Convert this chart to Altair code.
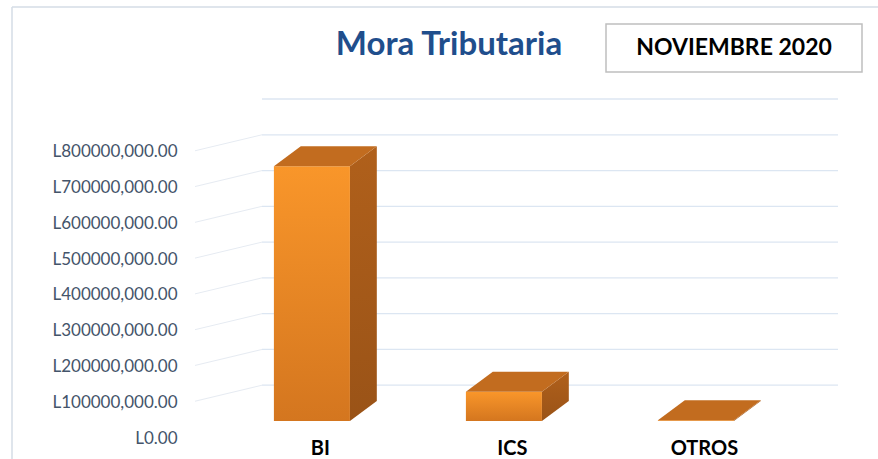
import json
import altair as alt
import pandas as pd

# ---- data ----
categories = ["BI", "ICS", "OTROS"]
values = [712_000_000, 82_000_000, 2_000_000]
tick_values = [0, 100_000_000, 200_000_000, 300_000_000, 400_000_000,
               500_000_000, 600_000_000, 700_000_000, 800_000_000]
grid_values = [100_000_000, 200_000_000, 300_000_000, 400_000_000, 500_000_000,
               600_000_000, 700_000_000, 800_000_000, 900_000_000]
title_text = "Mora Tributaria"
period_text = "NOVIEMBRE 2020"

# ---- geometry (style) ----
W, H = 576, 322
Y_MAX = 900_000_000
X_DOM = [-0.26, 2.74]
HW = 0.198          # half bar width in x units
DX = 0.14           # 3D depth in x units
DY = Y_MAX * 20 / H  # 3D depth in value units (~20 px)
FONT = "Lato"

pos = list(range(len(categories)))
front = pd.DataFrame({"cat": categories, "x": [p - HW for p in pos],
                      "x2": [p + HW for p in pos], "v": values})
side_rows, top_rows = [], []
for c, p, v in zip(categories, pos, values):
    side_rows += [{"cat": c, "x": p + HW, "y": 0, "y2": v},
                  {"cat": c, "x": p + HW + DX, "y": DY, "y2": v + DY}]
    top_rows += [{"cat": c, "y": v, "x": p - HW, "x2": p + HW},
                 {"cat": c, "y": v + DY, "x": p - HW + DX, "x2": p + HW + DX}]
side = pd.DataFrame(side_rows)
top = pd.DataFrame(top_rows)
grid = pd.DataFrame({"g": grid_values})
ticks = pd.DataFrame({"t": tick_values[1:]})
one = pd.DataFrame({"a": [0]})

xs = alt.Scale(domain=X_DOM, nice=False, zero=False)
ys = alt.Scale(domain=[0, Y_MAX], nice=False)

label_expr = json.dumps(categories) + "[datum.value]"
y_label_expr = "datum.value == 0 ? 'L0.00' : 'L' + format(datum.value/1000, 'd') + ',000.00'"

grid_layer = alt.Chart(grid).mark_rule(color="#DCE6F2", strokeWidth=1.3).encode(
    y=alt.Y("g:Q", scale=ys), x=alt.value(0), x2=alt.value(W))

wall_layer = alt.Chart(ticks).mark_rule(color="#E6EBF2", strokeWidth=1, yOffset=16).encode(
    y=alt.Y("t:Q", scale=ys), y2="t:Q", x=alt.value(-67), x2=alt.value(0))

front_layer = alt.Chart(front).mark_bar(
    fill=alt.Gradient(gradient="linear", x1=0, x2=0, y1=0, y2=1,
                      stops=[alt.GradientStop(color="#F9962A", offset=0),
                             alt.GradientStop(color="#D4761F", offset=1)])
).encode(
    x=alt.X("x:Q", scale=xs,
            axis=alt.Axis(values=pos, labelExpr=label_expr, title=None, domain=False,
                          ticks=False, grid=False, labelFont=FONT, labelFontSize=20,
                          labelFontWeight="bold", labelColor="#000000",
                          labelPadding=17, labelOffset=8)),
    x2="x2:Q",
    y=alt.Y("v:Q", scale=ys,
            axis=alt.Axis(values=tick_values, labelExpr=y_label_expr, title=None,
                          domain=False, ticks=False, grid=False, labelFont=FONT,
                          labelFontSize=17, labelColor="#44546A", labelPadding=85,
                          labelOffset=17)),
    y2=alt.datum(0),
)

side_layers = []
top_layers = []
for c in categories:
    side_layers.append(
        alt.Chart(side).transform_filter(alt.datum.cat == c)
        .mark_area(orient="vertical",
                   fill=alt.Gradient(gradient="linear", x1=0, x2=0, y1=0, y2=1,
                                     stops=[alt.GradientStop(color="#B0601B", offset=0),
                                            alt.GradientStop(color="#9A5317", offset=1)]))
        .encode(x=alt.X("x:Q", scale=xs), y=alt.Y("y:Q", scale=ys), y2="y2:Q"))
    top_layers.append(
        alt.Chart(top).transform_filter(alt.datum.cat == c)
        .mark_area(orient="horizontal", color="#C26C1F")
        .encode(y=alt.Y("y:Q", scale=ys), x=alt.X("x:Q", scale=xs), x2="x2:Q"))

border_v = alt.Chart(one).mark_rule(color="#D5DCE6", strokeWidth=1.5).encode(
    x=alt.value(-250), y=alt.value(-92), y2=alt.value(H + 60))
border_h = alt.Chart(one).mark_rule(color="#D5DCE6", strokeWidth=1.5).encode(
    y=alt.value(-92), x=alt.value(-250), x2=alt.value(W + 60))

title_layer = alt.Chart(one).mark_text(
    text=title_text, font=FONT, fontSize=33, fontWeight="bold", color="#1F4E8C",
    align="center", baseline="middle").encode(x=alt.value(187), y=alt.value(-54))

box_layer = alt.Chart(one).mark_rect(fill="white", stroke="#BFBFBF", strokeWidth=1.5).encode(
    x=alt.value(344), x2=alt.value(600), y=alt.value(-75), y2=alt.value(-27))

period_layer = alt.Chart(one).mark_text(
    text=period_text, font=FONT, fontSize=23, fontWeight="bold", color="#000000",
    align="center", baseline="middle").encode(x=alt.value(472), y=alt.value(-51))

chart = alt.layer(
    border_v, border_h, wall_layer, grid_layer, *side_layers, front_layer, *top_layers,
    title_layer, box_layer, period_layer
).properties(
    width=W, height=H,
    background="white",
    autosize=alt.AutoSizeParams(type="none"),
    padding={"left": 262, "top": 99, "right": 40, "bottom": 38},
).configure_view(stroke="transparent", strokeWidth=0)

chart.save("out.html", embed_options={"renderer": "svg", "actions": False})
